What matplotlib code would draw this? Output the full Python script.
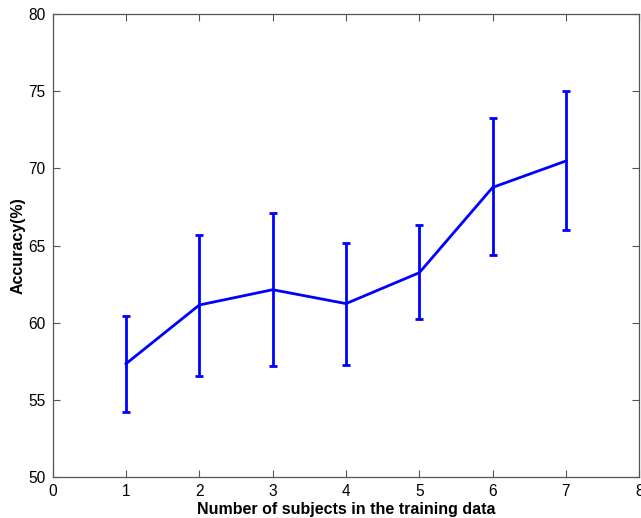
import matplotlib
matplotlib.use("Agg")
import matplotlib.pyplot as plt

subjects = [1, 2, 3, 4, 5, 6, 7]
accuracy = [57.35, 61.15, 62.14, 61.24, 63.24, 68.76, 70.47]
err_low = [3.13, 4.58, 4.92, 3.98, 3.02, 4.38, 4.45]
err_high = [3.08, 4.55, 4.98, 3.93, 3.07, 4.47, 4.55]
x_ticks = [0, 1, 2, 3, 4, 5, 6, 7, 8]
y_ticks = [50, 55, 60, 65, 70, 75, 80]

plt.rcParams['font.family'] = ['Liberation Sans', 'DejaVu Sans']

fig = plt.figure(figsize=(6.41, 5.18), dpi=100)
ax = fig.add_axes([52.7/641, 1 - 477.3/518, (639.3-52.7)/641, (477.3-13.7)/518])

ax.errorbar(subjects, accuracy, yerr=[err_low, err_high], color='#0000ff',
            linewidth=2, elinewidth=2, capsize=3.2, capthick=2)

ax.set_xlim(0, 8)
ax.set_ylim(50, 80)
ax.set_xticks(x_ticks)
ax.set_yticks(y_ticks)
ax.tick_params(direction='in', length=5, width=0.8, color='#555555',
               top=True, right=True, labelsize=11.2, pad=5)
for s in ax.spines.values():
    s.set_color('#555555')
    s.set_linewidth(0.9)

ax.set_xlabel('Number of subjects in the training data', fontsize=11.5,
              fontweight='bold', labelpad=2)
ax.set_ylabel('Accuracy(%)', fontsize=11.5, fontweight='bold', labelpad=2)

fig.savefig('out.png', dpi=100)
